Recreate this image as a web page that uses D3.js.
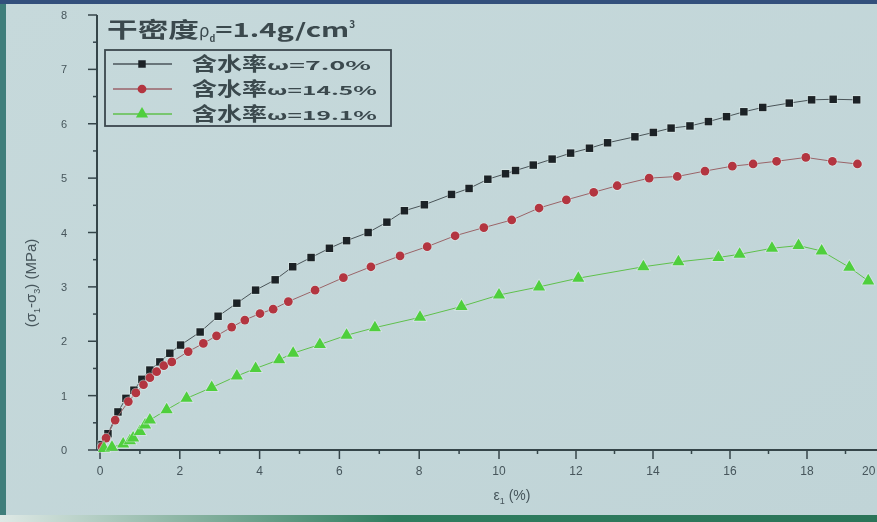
<!DOCTYPE html>
<html>
<head>
<meta charset="utf-8">
<script src="https://cdn.jsdelivr.net/npm/d3@7"></script>
<style>
  html, body { margin: 0; padding: 0; background: #c3d6d9; }
  svg { display: block; }
</style>
</head>
<body>
<svg id="chart" width="877" height="522"></svg>
<script>
// Deviatoric stress vs axial strain, dry density 1.4 g/cm³, three moisture contents
const xTicks = [0, 2, 4, 6, 8, 10, 12, 14, 16, 18, 20];
const yTicks = [0, 1, 2, 3, 4, 5, 6, 7, 8];

const seriesNames = ["含水率ω=7.0%", "含水率ω=14.5%", "含水率ω=19.1%"];
const seriesLabelsCn = ["含水率", "含水率", "含水率"];
const seriesLabelsVal = ["ω=7.0%", "ω=14.5%", "ω=19.1%"];

const strain70 = [0.05, 0.2, 0.45, 0.65, 0.85, 1.05, 1.25, 1.5, 1.75, 2.02, 2.51, 2.96, 3.43, 3.9, 4.39, 4.83, 5.29, 5.75, 6.18, 6.72, 7.19, 7.63, 8.13, 8.81, 9.25, 9.72, 10.17, 10.43, 10.89, 11.38, 11.86, 12.35, 12.82, 13.53, 14.01, 14.47, 14.96, 15.44, 15.91, 16.36, 16.85, 17.54, 18.12, 18.68, 19.29];
const stress70 = [0.1, 0.3, 0.7, 0.95, 1.1, 1.3, 1.47, 1.62, 1.78, 1.93, 2.17, 2.46, 2.7, 2.94, 3.13, 3.37, 3.54, 3.71, 3.85, 4.0, 4.19, 4.4, 4.51, 4.7, 4.81, 4.98, 5.08, 5.14, 5.24, 5.35, 5.46, 5.55, 5.65, 5.76, 5.84, 5.92, 5.96, 6.04, 6.13, 6.22, 6.3, 6.38, 6.44, 6.45, 6.44];

const strain145 = [0.05, 0.15, 0.38, 0.71, 0.9, 1.09, 1.25, 1.42, 1.6, 1.8, 2.21, 2.59, 2.92, 3.3, 3.63, 4.01, 4.34, 4.72, 5.39, 6.1, 6.79, 7.52, 8.2, 8.9, 9.62, 10.33, 11.04, 11.75, 12.46, 13.07, 13.9, 14.63, 15.35, 16.06, 16.6, 17.21, 17.97, 18.66, 19.31];
const stress145 = [0.06, 0.22, 0.55, 0.89, 1.05, 1.2, 1.33, 1.44, 1.55, 1.62, 1.81, 1.96, 2.1, 2.26, 2.39, 2.51, 2.59, 2.73, 2.94, 3.17, 3.37, 3.57, 3.74, 3.94, 4.09, 4.23, 4.45, 4.6, 4.74, 4.86, 5.0, 5.03, 5.13, 5.22, 5.26, 5.31, 5.38, 5.31, 5.26];

const strain191 = [0.1, 0.3, 0.58, 0.75, 0.83, 1.0, 1.13, 1.25, 1.67, 2.17, 2.8, 3.43, 3.9, 4.49, 4.84, 5.51, 6.18, 6.89, 8.02, 9.06, 10.0, 11.04, 12.06, 13.75, 14.66, 15.7, 16.25, 17.09, 17.78, 18.38, 19.1, 19.59];
const stress191 = [0.03, 0.05, 0.11, 0.17, 0.22, 0.34, 0.46, 0.55, 0.74, 0.95, 1.15, 1.36, 1.5, 1.66, 1.78, 1.94, 2.11, 2.25, 2.44, 2.64, 2.85, 3.0, 3.16, 3.37, 3.46, 3.54, 3.6, 3.71, 3.76, 3.66, 3.36, 3.11];

const series = [
  { name: seriesNames[0], xs: strain70, ys: stress70, symbol: d3.symbolSquare, size: 56, fill: "#1c2427", line: "#4a5458" },
  { name: seriesNames[1], xs: strain145, ys: stress145, symbol: d3.symbolCircle, size: 60, fill: "#b3343f", line: "#9a6468" },
  { name: seriesNames[2], xs: strain191, ys: stress191, symbol: d3.symbolTriangle, size: 64, fill: "#4fcf3e", line: "#5fc04c" }
];

const svg = d3.select("#chart");
const W = 877, H = 522;

const defs = svg.append("defs");
const soft = defs.append("filter").attr("id", "soft")
  .attr("x", "-5%").attr("y", "-5%").attr("width", "110%").attr("height", "110%");
soft.append("feGaussianBlur").attr("stdDeviation", 0.7);

const bottomGrad = defs.append("linearGradient").attr("id", "bottomGrad");
bottomGrad.append("stop").attr("offset", "0").attr("stop-color", "#dfe9e6");
bottomGrad.append("stop").attr("offset", "0.2").attr("stop-color", "#8fb7a6");
bottomGrad.append("stop").attr("offset", "0.45").attr("stop-color", "#2f7d5f");
bottomGrad.append("stop").attr("offset", "1").attr("stop-color", "#2a7458");

const bgGrad = defs.append("linearGradient").attr("id", "bgGrad")
  .attr("x1", 0).attr("y1", 0).attr("x2", 1).attr("y2", 1);
bgGrad.append("stop").attr("offset", "0").attr("stop-color", "#c6d9db");
bgGrad.append("stop").attr("offset", "1").attr("stop-color", "#c0d4d7");

// screen surface and its edges
svg.append("rect").attr("width", W).attr("height", H).attr("fill", "url(#bgGrad)");
svg.append("rect").attr("x", 0).attr("y", 0).attr("width", 6).attr("height", H).attr("fill", "#3f7e7b");
svg.append("rect").attr("x", 0).attr("y", 0).attr("width", W).attr("height", 4).attr("fill", "#33507c");
svg.append("rect").attr("x", 0).attr("y", 515).attr("width", W).attr("height", 7).attr("fill", "url(#bottomGrad)");

const g = svg.append("g").attr("filter", "url(#soft)");

const x = d3.scaleLinear().domain([0, 10, 18]).range([100, 499, 807]);
const y = d3.scaleLinear().domain([0, 8]).range([450, 15]);
const x0 = 97;
const axisColor = "#34444a";
const labelColor = "#46555b";

// x axis
const xAxis = g.append("g").attr("transform", `translate(0,${y(0)})`);
xAxis.append("line").attr("x1", x0).attr("x2", W).attr("y1", 0).attr("y2", 0)
  .attr("stroke", axisColor).attr("stroke-width", 2);
xAxis.selectAll(".minor").data(d3.range(1, 21, 2)).join("line")
  .attr("x1", d => x(d)).attr("x2", d => x(d)).attr("y1", 0).attr("y2", 4)
  .attr("stroke", axisColor).attr("stroke-width", 1.5);
xAxis.selectAll(".major").data(xTicks).join("line")
  .attr("x1", d => x(d)).attr("x2", d => x(d)).attr("y1", 0).attr("y2", 9)
  .attr("stroke", axisColor).attr("stroke-width", 1.5);
xAxis.selectAll("text").data(xTicks).join("text")
  .attr("x", d => Math.min(x(d), 862)).attr("y", 25)
  .attr("text-anchor", d => x(d) > 862 ? "start" : "middle")
  .attr("font-family", "Liberation Sans, Arial, sans-serif").attr("font-size", 12)
  .attr("fill", labelColor).text(d => d);

// y axis
const yAxis = g.append("g");
yAxis.append("line").attr("x1", x0).attr("x2", x0).attr("y1", y(8)).attr("y2", y(0))
  .attr("stroke", axisColor).attr("stroke-width", 2);
yAxis.selectAll(".minor").data(d3.range(0.5, 8, 1)).join("line")
  .attr("x1", x0 - 4).attr("x2", x0).attr("y1", d => y(d)).attr("y2", d => y(d))
  .attr("stroke", axisColor).attr("stroke-width", 1.5);
yAxis.selectAll(".major").data(yTicks).join("line")
  .attr("x1", x0 - 9).attr("x2", x0).attr("y1", d => y(d)).attr("y2", d => y(d))
  .attr("stroke", axisColor).attr("stroke-width", 1.5);
yAxis.selectAll("text").data(yTicks).join("text")
  .attr("x", 64).attr("y", d => y(d) + 4)
  .attr("text-anchor", "middle")
  .attr("font-family", "Liberation Sans, Arial, sans-serif").attr("font-size", 11)
  .attr("fill", labelColor).text(d => d);

// axis titles
const xt = g.append("text").attr("x", 512).attr("y", 500).attr("text-anchor", "middle")
  .attr("font-family", "Liberation Sans, Arial, sans-serif").attr("font-size", 14).attr("fill", labelColor);
xt.append("tspan").text("ε");
xt.append("tspan").attr("font-size", 9).attr("dy", 4).text("1");
xt.append("tspan").attr("dy", -4).text(" (%)");

const yt = g.append("text").attr("transform", "translate(36,283) rotate(-90)").attr("text-anchor", "middle")
  .attr("font-family", "Liberation Sans, Arial, sans-serif").attr("font-size", 15).attr("fill", labelColor);
yt.append("tspan").text("(σ");
yt.append("tspan").attr("font-size", 9).attr("dy", 4).text("1");
yt.append("tspan").attr("dy", -4).text("-σ");
yt.append("tspan").attr("font-size", 9).attr("dy", 4).text("3");
yt.append("tspan").attr("dy", -4).text(") (MPa)");

// curves
const line = d3.line().x(d => x(d[0])).y(d => y(d[1]));
series.forEach(s => {
  const pts = s.xs.map((v, i) => [v, s.ys[i]]);
  g.append("path").datum(pts).attr("d", line)
    .attr("fill", "none").attr("stroke", s.line).attr("stroke-width", 1);
  const sym = d3.symbol().type(s.symbol).size(s.size);
  g.append("g").selectAll("path").data(pts).join("path")
    .attr("transform", d => `translate(${x(d[0])},${y(d[1])})`)
    .attr("d", sym)
    .attr("fill", s.fill)
    .attr("stroke", "#e6f0ef").attr("stroke-opacity", 0.55).attr("stroke-width", 1.6)
    .attr("paint-order", "stroke");
});

// heading
const head = g.append("text").attr("x", 107).attr("y", 37)
  .attr("font-family", "Noto Sans CJK SC, sans-serif").attr("font-weight", 700).attr("fill", "#3a484d");
head.append("tspan").attr("font-size", 21).attr("textLength", 92).attr("lengthAdjust", "spacingAndGlyphs").text("干密度");
head.append("tspan").attr("font-size", 17).attr("font-weight", 400).text("ρ");
head.append("tspan").attr("font-size", 9).attr("dy", 5).text("d");
head.append("tspan").attr("font-size", 19).attr("dy", -5).attr("textLength", 134).attr("lengthAdjust", "spacingAndGlyphs").text("=1.4g/cm");
head.append("tspan").attr("font-size", 10).attr("dy", -9).text("3");

// legend
const leg = g.append("g");
leg.append("rect").attr("x", 105).attr("y", 50).attr("width", 286).attr("height", 76)
  .attr("fill", "none").attr("stroke", "#3a484d").attr("stroke-width", 1.8);
const rowY = [64, 89, 114];
series.forEach((s, i) => {
  const ry = rowY[i];
  leg.append("line").attr("x1", 113).attr("x2", 172).attr("y1", ry).attr("y2", ry)
    .attr("stroke", s.line).attr("stroke-width", 1.5);
  leg.append("path").attr("transform", `translate(142,${ry})`)
    .attr("d", d3.symbol().type(s.symbol).size(s.size)())
    .attr("fill", s.fill);
  const t = leg.append("text").attr("x", 192).attr("y", ry + 7)
    .attr("font-family", "Noto Sans CJK SC, sans-serif").attr("font-weight", 700).attr("fill", "#3a484d");
  t.append("tspan").attr("font-size", 19).attr("textLength", 75).attr("lengthAdjust", "spacingAndGlyphs").text(seriesLabelsCn[i]);
  t.append("tspan").attr("font-size", 12).attr("dy", -1)
    .attr("textLength", i === 0 ? 104 : 110).attr("lengthAdjust", "spacingAndGlyphs").text(seriesLabelsVal[i]);
});
</script>
</body>
</html>
